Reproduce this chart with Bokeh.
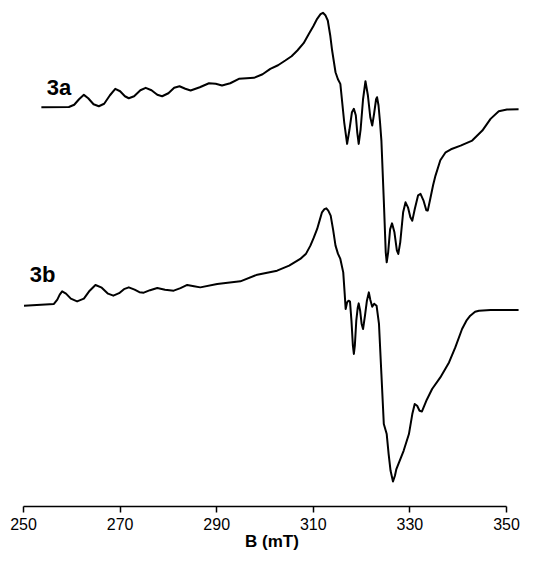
from bokeh.plotting import figure
from bokeh.models import Range1d, FixedTicker, Label
from bokeh.embed import file_html
from bokeh.resources import INLINE

# ---- data (B in mT, intensity in arbitrary units relative to each trace's baseline) ----
b_3a = [253.7, 259.4, 260.5, 261.5, 262.5, 263.4, 264.5, 265.6, 266.7, 267.9,
        269.0, 270.0, 271.0, 271.8, 272.9, 274.2, 275.3, 276.5, 277.7, 278.7,
        280.0, 281.2, 282.3, 283.5, 284.6, 286.5, 288.4, 289.8, 291.1, 292.8,
        294.6, 296.2, 297.7, 299.5, 301.1, 302.7, 304.2, 305.5, 306.7, 308.0,
        309.1, 310.0, 310.8, 311.5, 312.0, 312.5, 313.0, 313.5, 313.9, 314.6,
        315.1, 315.6, 316.4, 317.0, 317.5, 318.0, 318.4, 318.8, 319.1, 319.4,
        319.8, 320.3, 320.8, 321.3, 321.8, 322.2, 322.6, 323.0, 323.2, 323.5,
        323.8, 324.1, 324.6, 325.0, 325.2, 325.5, 325.9, 326.3, 326.8, 327.3,
        327.6, 328.0, 328.6, 329.1, 329.6, 330.1, 330.5, 331.0, 331.7, 332.2,
        332.8, 333.4, 333.7, 334.2, 334.8, 335.3, 336.3, 337.4, 338.5, 340.5,
        342.9, 345.0, 346.7, 348.4, 350.1, 352.5]
i_3a = [0.0, 0.3, 2.5, 8.0, 12.4, 9.0, 3.0, 1.0, 3.5, 12.0,
        18.4, 16.0, 11.0, 9.0, 11.0, 17.0, 19.4, 17.0, 12.5, 11.0,
        14.0, 19.5, 21.0, 18.5, 16.7, 20.0, 24.0, 23.5, 21.7, 24.0,
        28.4, 29.0, 29.4, 33.0, 38.4, 42.0, 46.7, 51.0, 56.7, 64.0,
        73.4, 81.0, 88.4, 93.0, 94.4, 92.0, 86.7, 72.0, 56.7, 35.0,
        28.0, 23.4, -15.0, -36.6, -22.0, -5.0, -1.6, -8.0, -25.0, -36.6,
        -22.0, 8.0, 26.0, 12.0, -10.0, -18.3, -6.0, 8.0, 10.0, 2.0,
        -14.0, -33.3, -93.3, -145.0, -155.0, -145.0, -122.0, -116.0, -125.0, -143.0,
        -146.6, -135.0, -105.0, -95.0, -100.0, -110.0, -113.3, -102.0, -88.0, -86.6,
        -93.0, -103.0, -103.3, -92.0, -78.0, -68.3, -53.0, -45.0, -42.0, -38.3,
        -33.3, -23.3, -11.6, -4.0, -2.3, -2.0]

b_3b = [250.1, 256.3, 257.0, 257.5, 258.0, 258.8, 259.8, 261.1, 262.5, 263.7,
        264.9, 266.2, 267.5, 268.6, 269.8, 270.8, 271.8, 273.0, 274.0, 274.9,
        276.2, 277.7, 279.3, 281.1, 282.5, 283.9, 285.3, 286.6, 290.1, 294.9,
        298.4, 302.5, 305.0, 307.3, 308.5, 309.4, 310.1, 310.8, 311.3, 311.8,
        312.3, 312.7, 313.1, 313.6, 314.1, 314.6, 315.1, 315.6, 316.2, 316.5,
        316.7, 317.0, 317.3, 317.6, 317.9, 318.2, 318.4, 318.6, 318.9, 319.2,
        319.4, 319.7, 320.0, 320.3, 320.7, 321.1, 321.5, 321.8, 322.2, 322.6,
        323.1, 323.6, 324.1, 324.6, 325.2, 325.6, 326.0, 326.5, 326.9, 327.2,
        328.7, 329.8, 330.5, 331.0, 331.5, 332.0, 332.5, 333.5, 334.6, 336.3,
        338.1, 339.4, 340.8, 341.7, 342.5, 343.5, 344.3, 346.7, 352.5]
i_3b = [0.0, 1.7, 6.0, 11.0, 14.3, 12.0, 7.0, 4.3, 7.0, 15.0,
        20.7, 18.0, 12.0, 10.0, 12.5, 16.5, 18.3, 16.0, 13.5, 13.0,
        15.5, 17.7, 16.0, 15.0, 17.5, 20.7, 19.5, 18.3, 21.7, 24.3,
        31.0, 35.0, 40.0, 46.7, 52.0, 60.0, 68.0, 76.7, 85.0, 93.3,
        96.5, 97.3, 95.0, 90.0, 76.0, 60.0, 52.0, 46.7, 33.3, 12.0,
        -3.3, 3.3, 5.0, 4.0, -15.0, -40.0, -48.3, -40.0, -15.0, -2.0,
        2.3, -5.0, -18.0, -23.3, -10.0, 5.0, 13.3, 6.0, -1.0, 2.0,
        0.0, -18.3, -68.3, -118.3, -128.3, -148.3, -165.0, -175.7, -170.0, -163.3,
        -145.0, -128.3, -108.3, -98.3, -100.0, -105.0, -105.7, -94.0, -83.3, -71.7,
        -56.7, -41.7, -23.3, -15.0, -10.0, -6.0, -5.0, -4.3, -4.3]

trace_names = ["3a", "3b"]
x_ticks = [250, 270, 290, 310, 330, 350]
x_label = "B (mT)"

# vertical stacking of the two spectra (a.u.)
offset_3a = 399.0
offset_3b = 200.7

W, H = 527, 565
p = figure(width=W, height=H, output_backend="svg", toolbar_location=None,
           x_range=Range1d(250, 352.9), y_range=Range1d(0, 497.7),
           min_border_left=23, min_border_right=W - 520, min_border_top=8,
           min_border_bottom=H - 506)

p.line(b_3a, [v + offset_3a for v in i_3a], line_color="black", line_width=2, line_join="round")
p.line(b_3b, [v + offset_3b for v in i_3b], line_color="black", line_width=2, line_join="round")

p.add_layout(Label(x=254.8, y=419.0, text=trace_names[0], text_font="Liberation Sans",
                   text_font_style="bold", text_font_size="22px", text_baseline="alphabetic",
                   text_color="black"))
p.add_layout(Label(x=251.3, y=231.5, text=trace_names[1], text_font="Liberation Sans",
                   text_font_style="bold", text_font_size="22px", text_baseline="alphabetic",
                   text_color="black"))

p.yaxis.visible = False
p.grid.visible = False
p.outline_line_color = None

ax = p.xaxis[0]
ax.ticker = FixedTicker(ticks=x_ticks)
ax.bounds = (250, 350)
ax.axis_line_width = 1.5
ax.axis_line_color = "black"
ax.major_tick_line_width = 1.5
ax.major_tick_line_color = "black"
ax.major_tick_in = 0
ax.major_tick_out = 6
ax.minor_tick_line_color = None
ax.major_label_text_font = "Liberation Sans"
ax.major_label_text_font_size = "16px"
ax.major_label_text_color = "black"
ax.major_label_standoff = 5
ax.axis_label = x_label
ax.axis_label_text_font = "Liberation Sans"
ax.axis_label_text_font_style = "bold"
ax.axis_label_text_font_size = "17px"
ax.axis_label_text_color = "black"
ax.axis_label_standoff = -1

open("out.html", "w").write(file_html(p, INLINE))
